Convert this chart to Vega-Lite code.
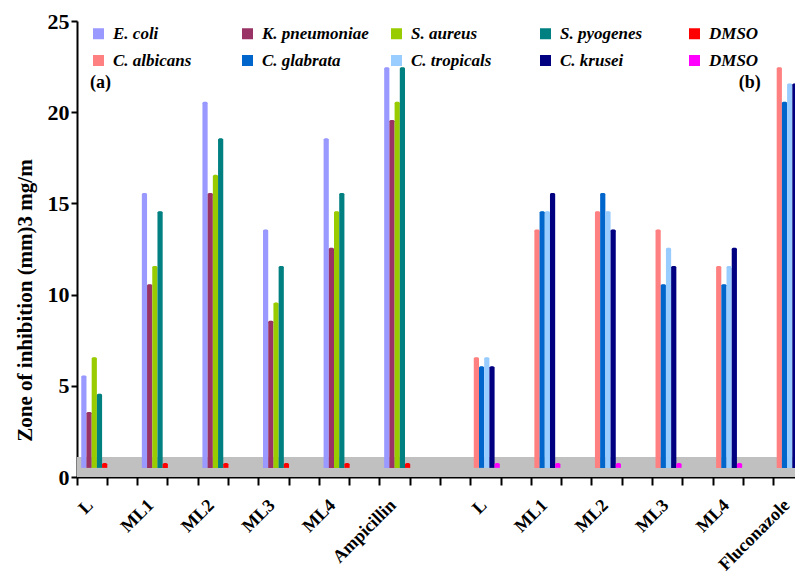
{
  "$schema": "https://vega.github.io/schema/vega-lite/v6.json",
  "width": 727,
  "height": 456,
  "autosize": {"type": "none"},
  "padding": {"left": 77, "top": 21, "right": -9, "bottom": 100},
  "background": "white",
  "config": {
    "view": {"stroke": null},
    "font": "Liberation Serif",
    "axis": {"labelFont": "Liberation Serif", "titleFont": "Liberation Serif", "labelFontWeight": "bold", "titleFontWeight": "bold", "labelColor": "black", "titleColor": "black", "domainColor": "black", "tickColor": "black", "domainWidth": 2, "tickWidth": 2, "grid": false}
  },
  "datasets": {
    "bars": [
      {"panel": "a", "cat": "L (a)", "series": "E. coli", "value": 5.5},
      {"panel": "a", "cat": "L (a)", "series": "K. pneumoniae", "value": 3.5},
      {"panel": "a", "cat": "L (a)", "series": "S. aureus", "value": 6.5},
      {"panel": "a", "cat": "L (a)", "series": "S. pyogenes", "value": 4.5},
      {"panel": "a", "cat": "L (a)", "series": "DMSO (a)", "value": 0.7},
      {"panel": "a", "cat": "ML1 (a)", "series": "E. coli", "value": 15.5},
      {"panel": "a", "cat": "ML1 (a)", "series": "K. pneumoniae", "value": 10.5},
      {"panel": "a", "cat": "ML1 (a)", "series": "S. aureus", "value": 11.5},
      {"panel": "a", "cat": "ML1 (a)", "series": "S. pyogenes", "value": 14.5},
      {"panel": "a", "cat": "ML1 (a)", "series": "DMSO (a)", "value": 0.7},
      {"panel": "a", "cat": "ML2 (a)", "series": "E. coli", "value": 20.5},
      {"panel": "a", "cat": "ML2 (a)", "series": "K. pneumoniae", "value": 15.5},
      {"panel": "a", "cat": "ML2 (a)", "series": "S. aureus", "value": 16.5},
      {"panel": "a", "cat": "ML2 (a)", "series": "S. pyogenes", "value": 18.5},
      {"panel": "a", "cat": "ML2 (a)", "series": "DMSO (a)", "value": 0.7},
      {"panel": "a", "cat": "ML3 (a)", "series": "E. coli", "value": 13.5},
      {"panel": "a", "cat": "ML3 (a)", "series": "K. pneumoniae", "value": 8.5},
      {"panel": "a", "cat": "ML3 (a)", "series": "S. aureus", "value": 9.5},
      {"panel": "a", "cat": "ML3 (a)", "series": "S. pyogenes", "value": 11.5},
      {"panel": "a", "cat": "ML3 (a)", "series": "DMSO (a)", "value": 0.7},
      {"panel": "a", "cat": "ML4 (a)", "series": "E. coli", "value": 18.5},
      {"panel": "a", "cat": "ML4 (a)", "series": "K. pneumoniae", "value": 12.5},
      {"panel": "a", "cat": "ML4 (a)", "series": "S. aureus", "value": 14.5},
      {"panel": "a", "cat": "ML4 (a)", "series": "S. pyogenes", "value": 15.5},
      {"panel": "a", "cat": "ML4 (a)", "series": "DMSO (a)", "value": 0.7},
      {"panel": "a", "cat": "Ampicillin", "series": "E. coli", "value": 22.4},
      {"panel": "a", "cat": "Ampicillin", "series": "K. pneumoniae", "value": 19.5},
      {"panel": "a", "cat": "Ampicillin", "series": "S. aureus", "value": 20.5},
      {"panel": "a", "cat": "Ampicillin", "series": "S. pyogenes", "value": 22.4},
      {"panel": "a", "cat": "Ampicillin", "series": "DMSO (a)", "value": 0.7},
      {"panel": "b", "cat": "L (b)", "series": "C. albicans", "value": 6.5},
      {"panel": "b", "cat": "L (b)", "series": "C. glabrata", "value": 6.0},
      {"panel": "b", "cat": "L (b)", "series": "C. tropicals", "value": 6.5},
      {"panel": "b", "cat": "L (b)", "series": "C. krusei", "value": 6.0},
      {"panel": "b", "cat": "L (b)", "series": "DMSO (b)", "value": 0.7},
      {"panel": "b", "cat": "ML1 (b)", "series": "C. albicans", "value": 13.5},
      {"panel": "b", "cat": "ML1 (b)", "series": "C. glabrata", "value": 14.5},
      {"panel": "b", "cat": "ML1 (b)", "series": "C. tropicals", "value": 14.5},
      {"panel": "b", "cat": "ML1 (b)", "series": "C. krusei", "value": 15.5},
      {"panel": "b", "cat": "ML1 (b)", "series": "DMSO (b)", "value": 0.7},
      {"panel": "b", "cat": "ML2 (b)", "series": "C. albicans", "value": 14.5},
      {"panel": "b", "cat": "ML2 (b)", "series": "C. glabrata", "value": 15.5},
      {"panel": "b", "cat": "ML2 (b)", "series": "C. tropicals", "value": 14.5},
      {"panel": "b", "cat": "ML2 (b)", "series": "C. krusei", "value": 13.5},
      {"panel": "b", "cat": "ML2 (b)", "series": "DMSO (b)", "value": 0.7},
      {"panel": "b", "cat": "ML3 (b)", "series": "C. albicans", "value": 13.5},
      {"panel": "b", "cat": "ML3 (b)", "series": "C. glabrata", "value": 10.5},
      {"panel": "b", "cat": "ML3 (b)", "series": "C. tropicals", "value": 12.5},
      {"panel": "b", "cat": "ML3 (b)", "series": "C. krusei", "value": 11.5},
      {"panel": "b", "cat": "ML3 (b)", "series": "DMSO (b)", "value": 0.7},
      {"panel": "b", "cat": "ML4 (b)", "series": "C. albicans", "value": 11.5},
      {"panel": "b", "cat": "ML4 (b)", "series": "C. glabrata", "value": 10.5},
      {"panel": "b", "cat": "ML4 (b)", "series": "C. tropicals", "value": 11.5},
      {"panel": "b", "cat": "ML4 (b)", "series": "C. krusei", "value": 12.5},
      {"panel": "b", "cat": "ML4 (b)", "series": "DMSO (b)", "value": 0.7},
      {"panel": "b", "cat": "Fluconazole", "series": "C. albicans", "value": 22.4},
      {"panel": "b", "cat": "Fluconazole", "series": "C. glabrata", "value": 20.5},
      {"panel": "b", "cat": "Fluconazole", "series": "C. tropicals", "value": 21.5},
      {"panel": "b", "cat": "Fluconazole", "series": "C. krusei", "value": 21.5},
      {"panel": "b", "cat": "Fluconazole", "series": "DMSO (b)", "value": 0.7}
    ],
    "floor": [{"level": 0, "top": 1.1}],
    "tagA": [{"cat": "L (a)", "tag": "(a)", "y": 21.6}],
    "tagB": [{"cat": "Fluconazole", "tag": "(b)", "y": 21.6}]
  },
  "encoding": {
    "x": {
      "field": "cat", "type": "nominal", "title": null,
      "scale": {"domain": ["L (a)", "_1", "ML1 (a)", "_2", "ML2 (a)", "_3", "ML3 (a)", "_4", "ML4 (a)", "_5", "Ampicillin", "_6", "_7", "L (b)", "_8", "ML1 (b)", "_9", "ML2 (b)", "_10", "ML3 (b)", "_11", "ML4 (b)", "_12", "Fluconazole"], "paddingInner": 0, "paddingOuter": 0},
      "axis": {"bandPosition": 0, "labelAngle": -45, "labelFontSize": 18, "labelOffset": -8, "labelPadding": 11, "tickSize": 8,
        "labelExpr": "indexof(datum.label, '_') == 0 ? '' : replace(replace(datum.label, ' (a)', ''), ' (b)', '')"}
    }
  },
  "layer": [
    {
      "data": {"name": "floor"},
      "mark": {"type": "rect", "color": "#C0C0C0"},
      "encoding": {
        "x": null,
        "y": {"field": "level", "type": "quantitative"},
        "y2": {"field": "top"}
      }
    },
    {
      "data": {"name": "bars"},
      "transform": [{"filter": "datum.panel == 'a'"}],
      "encoding": {
        "xOffset": {"field": "series", "type": "nominal", "scale": {"domain": ["E. coli", "K. pneumoniae", "S. aureus", "S. pyogenes", "DMSO (a)"], "paddingInner": 0, "paddingOuter": 0.41, "align": 1}},
        "y": {"field": "value", "type": "quantitative", "scale": {"domain": [0, 25], "nice": false, "zero": true},
          "axis": {"values": [0, 5, 10, 15, 20, 25], "labelFontSize": 22, "tickSize": 6, "labelPadding": 2, "titleFontSize": 21, "titlePadding": 12, "titleY": 279},
          "title": "Zone of inhibition (mm)3 mg/m"},
        "color": {"field": "series", "type": "nominal",
          "scale": {"domain": ["E. coli", "K. pneumoniae", "S. aureus", "S. pyogenes", "DMSO (a)", "C. albicans", "C. glabrata", "C. tropicals", "C. krusei", "DMSO (b)"],
                    "range": ["#9999FF", "#993366", "#99CC00", "#008080", "#FF0000", "#FF8080", "#0066CC", "#99CCFF", "#000080", "#FF00FF"]},
          "legend": {"title": null, "orient": "none", "legendX": 13, "legendY": 4, "columns": 5, "direction": "horizontal", "gridAlign": "all",
            "symbolType": "square", "symbolSize": 121, "symbolStrokeWidth": 0, "symbolOpacity": 1,
            "labelFont": "Liberation Serif", "labelFontStyle": "italic", "labelFontWeight": "bold", "labelFontSize": 17, "labelColor": "black",
            "labelOffset": 6, "columnPadding": 19, "rowPadding": 9, "padding": 0,
            "labelExpr": "replace(replace(datum.label, ' (a)', ''), ' (b)', '')"}}
      },
      "layer": [
        {"mark": {"type": "bar"}, "encoding": {"y2": {"datum": 0.5}}},
        {"mark": {"type": "point", "filled": true, "size": 26, "opacity": 1, "shape": "M-1,0A1,0.5 0 1,0 1,0A1,0.5 0 1,0 -1,0Z"}},
        {"mark": {"type": "point", "filled": true, "size": 26, "opacity": 0.25, "color": "black", "shape": "M-1,0A1,0.5 0 1,0 1,0A1,0.5 0 1,0 -1,0Z"}}
      ]
    },
    {
      "data": {"name": "bars"},
      "transform": [{"filter": "datum.panel == 'b'"}],
      "encoding": {
        "xOffset": {"field": "series", "type": "nominal", "scale": {"domain": ["C. albicans", "C. glabrata", "C. tropicals", "C. krusei", "DMSO (b)"], "paddingInner": 0, "paddingOuter": 0.41, "align": 0.7}},
        "y": {"field": "value", "type": "quantitative"},
        "color": {"field": "series", "type": "nominal"}
      },
      "layer": [
        {"mark": {"type": "bar"}, "encoding": {"y2": {"datum": 0.5}}},
        {"mark": {"type": "point", "filled": true, "size": 26, "opacity": 1, "shape": "M-1,0A1,0.5 0 1,0 1,0A1,0.5 0 1,0 -1,0Z"}},
        {"mark": {"type": "point", "filled": true, "size": 26, "opacity": 0.25, "color": "black", "shape": "M-1,0A1,0.5 0 1,0 1,0A1,0.5 0 1,0 -1,0Z"}}
      ]
    },
    {
      "data": {"name": "tagA"},
      "mark": {"type": "text", "align": "left", "baseline": "middle", "dx": 13, "fontSize": 18, "fontWeight": "bold", "font": "Liberation Serif", "color": "black"},
      "encoding": {
        "x": {"field": "cat", "type": "nominal", "bandPosition": 0},
        "y": {"field": "y", "type": "quantitative"},
        "text": {"field": "tag"}
      }
    },
    {
      "data": {"name": "tagB"},
      "mark": {"type": "text", "align": "right", "baseline": "middle", "dx": -13, "fontSize": 18, "fontWeight": "bold", "font": "Liberation Serif", "color": "black"},
      "encoding": {
        "x": {"field": "cat", "type": "nominal", "bandPosition": 0},
        "y": {"field": "y", "type": "quantitative"},
        "text": {"field": "tag"}
      }
    }
  ],
  "resolve": {"scale": {"xOffset": "independent"}}
}
